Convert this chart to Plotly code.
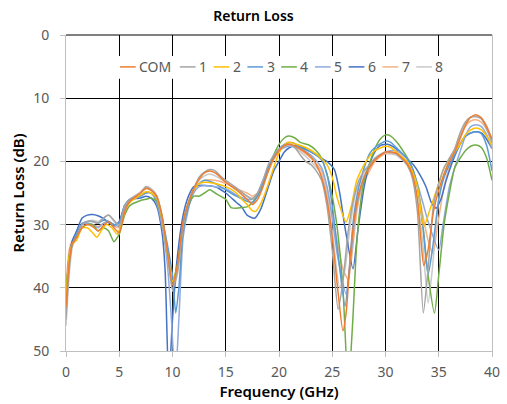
import plotly.graph_objects as go

# ---------------- data ----------------
SERIES_NAMES = ["COM", "1", "2", "3", "4", "5", "6", "7", "8"]
SERIES_COLORS = ["#ED7D31", "#A5A5A5", "#FFC000", "#5B9BD5", "#70AD47",
                 "#8FAADC", "#4472C4", "#F4B183", "#C9C9C9"]

F_COM = [0, 0.3, 0.6, 1, 1.5, 2, 2.5, 3, 3.5, 4, 4.5, 5, 5.5, 6, 7, 7.5, 8, 8.5, 9, 9.5, 10, 10.5, 11, 11.5, 12, 12.5, 13, 13.5, 14, 14.5, 15, 16, 17, 17.5, 18, 18.5, 19, 19.5, 20, 20.5, 21, 22, 23, 23.5, 24, 24.5, 25, 25.5, 26, 26.3, 26.7, 27, 27.5, 28, 28.5, 29, 30, 31, 32, 32.5, 33, 33.3, 33.6, 34, 34.5, 35, 35.5, 36, 36.5, 37, 37.5, 38, 38.5, 39, 39.5, 40]
RL_COM = [43, 36, 33, 32, 30.5, 30, 30.3, 31, 30.2, 29.5, 30.5, 31.3, 28, 26.3, 25, 24.3, 24.6, 25.5, 28.5, 34, 39.5, 36, 29.5, 26.5, 24.3, 22.8, 21.8, 21.5, 21.8, 22.5, 23.3, 24.5, 26, 26.8, 26, 24, 21.5, 19.5, 18.3, 17.5, 17.3, 18, 19.3, 20.5, 22.5, 26, 32, 40, 46.8, 44, 35, 30, 25, 22.5, 21, 19.8, 18.5, 18.7, 20.3, 22, 26, 32, 36.5, 34, 28, 24.5, 22, 20, 18.5, 16.3, 14.3, 13, 12.6, 13.1, 14.5, 16.5]

F_1 = [0, 0.3, 0.6, 1, 1.5, 2, 2.5, 3, 3.5, 4, 4.5, 5, 5.5, 6, 7, 7.5, 8, 8.5, 9, 9.5, 10, 10.5, 11, 11.5, 12, 12.5, 13, 13.5, 14, 14.5, 15, 16, 17, 17.5, 18, 18.5, 19, 19.5, 20, 20.5, 21, 21.5, 22, 22.5, 23, 23.5, 24, 24.5, 25, 25.55, 26, 26.5, 27, 27.5, 28, 28.5, 29, 30, 31, 32, 32.5, 33, 33.55, 34, 34.5, 35, 35.5, 36, 36.5, 37, 37.5, 38, 38.5, 39, 39.5, 40]
RL_1 = [45, 37, 33, 32, 30, 29.5, 29.5, 29.8, 29, 28.5, 29.3, 30.2, 27, 26, 25, 24, 24.5, 25.5, 28.5, 34, 40.2, 37, 30, 26.5, 24.3, 22.5, 21.7, 21.3, 21.5, 22.3, 23, 24.2, 25.5, 26, 25, 23, 20.5, 19, 18, 17.5, 17.3, 17.8, 19, 20, 20.5, 21.5, 23, 27, 34, 43.4, 39, 31, 26, 23, 21.5, 20.5, 19.5, 18.5, 18.8, 20.5, 22.5, 28, 44, 37, 27, 23.5, 21, 19.5, 18, 15.5, 13.8, 13, 12.9, 13.3, 14.8, 17]

F_2 = [0, 0.3, 0.6, 1, 1.5, 2, 2.5, 2.9, 3.3, 3.8, 4.3, 4.8, 5.2, 5.5, 6, 7, 7.5, 8, 8.5, 9, 9.5, 10, 10.5, 11, 11.5, 12, 12.5, 13, 14, 15, 16, 16.5, 17, 17.5, 17.8, 18.2, 18.7, 19.2, 19.7, 20.2, 20.8, 21.5, 22.5, 23.5, 24.5, 25, 25.5, 26.3, 26.8, 27.3, 28, 28.5, 29, 30, 30.5, 31, 32, 32.5, 33, 33.6, 34.2, 35, 35.5, 36, 36.5, 37, 37.5, 38, 38.5, 39, 39.5, 40]
RL_2 = [42, 35, 33, 32.5, 30.5, 30.5, 31.3, 32, 31, 30, 30.5, 31.5, 30, 28, 26.5, 25.3, 24.8, 25, 25.8, 29, 34.5, 39, 36.5, 30, 26.5, 24.5, 23.5, 23.3, 23.5, 24, 25, 26, 26.8, 27.8, 27.9, 27, 25, 22.5, 20, 18, 17, 17.2, 17.8, 18.8, 20.5, 22.5, 26, 29.6, 27, 23, 20.5, 19.2, 18.3, 17.6, 17.8, 18.5, 20, 21.5, 24, 30.3, 27.5, 23.5, 21, 19.7, 18.5, 17.3, 15.8, 15, 14.7, 15, 16, 17.5]

F_3 = [0, 0.3, 0.6, 1, 1.5, 2, 2.5, 3, 3.5, 4, 4.5, 5, 5.5, 6, 7, 7.5, 8, 8.5, 9, 9.5, 10, 10.3, 10.6, 11, 11.5, 12, 12.5, 13, 14, 14.5, 15, 16, 17, 17.5, 18, 18.5, 19, 19.5, 20, 20.5, 21, 21.5, 22, 23, 24, 24.5, 25, 25.5, 26.2, 26.6, 27, 27.5, 28, 28.5, 29, 30, 30.5, 31, 32, 32.5, 33, 33.5, 34, 34.4, 35, 35.5, 36, 36.5, 37, 37.5, 38, 38.5, 39, 39.5, 40]
RL_3 = [44, 36, 33, 31.5, 29.8, 29.5, 29.5, 29.8, 29.3, 29.5, 30, 29.7, 27, 26, 25.5, 25, 25, 26, 29, 33, 38, 44, 40, 31, 27, 24.5, 23.5, 23, 23.5, 24, 24.5, 25.5, 26.3, 26.5, 25.5, 23.5, 21, 19.2, 18, 17.3, 17, 17.2, 17.8, 18.5, 19.8, 22, 27, 34, 42.9, 37, 29, 24, 21, 18.8, 17.8, 16.8, 17, 17.8, 19.5, 21, 24, 30, 37.9, 34, 26, 22.5, 20.5, 19, 17.3, 16, 15.5, 15.3, 15.6, 17.5, 21.5]

F_4 = [0, 0.3, 0.6, 1, 1.5, 2, 2.5, 3, 3.5, 4, 4.5, 5, 5.5, 6, 7, 7.5, 8, 8.5, 9, 9.5, 10, 10.5, 11, 11.5, 12, 12.5, 13, 13.5, 14, 14.5, 15, 15.5, 16, 16.5, 17, 17.5, 18, 18.5, 19, 19.5, 20, 20.5, 20.9, 21.5, 22, 22.8, 23.5, 24, 24.5, 25, 25.5, 26, 26.5, 26.9, 27.3, 27.7, 28, 28.5, 29, 29.5, 30, 30.5, 31, 32, 32.5, 33, 33.5, 34, 34.6, 35, 35.5, 36, 36.5, 37, 37.5, 38, 38.5, 39, 39.5, 40]
RL_4 = [41, 35, 33, 32, 30.5, 30, 30, 31, 30.5, 31, 32.7, 31.5, 28.5, 27, 26.2, 26, 25.8, 26.3, 29, 34, 39, 36, 30, 27, 25.5, 25.5, 25, 24.5, 25, 25.5, 26, 27.3, 27.4, 27.3, 27.2, 26.5, 25.3, 23.5, 21.3, 19, 17.3, 16.3, 16, 16.3, 17, 17.4, 18.3, 19.5, 22, 25.5, 31, 40, 56, 46, 33, 26, 23, 20.3, 18, 16.5, 15.8, 16, 16.8, 19.3, 21, 24, 30, 38, 44, 38, 30, 25, 21, 19.5, 18.3, 17.6, 17.4, 17.8, 19.5, 23]

F_5 = [0, 0.3, 0.6, 1, 1.5, 2, 2.5, 3, 3.5, 4, 4.5, 5, 5.5, 6, 7, 7.5, 8, 8.5, 9, 9.5, 9.9, 10.25, 10.6, 11, 11.5, 12, 12.5, 13, 14, 15, 16, 17, 17.5, 18, 18.5, 19, 19.5, 20, 20.5, 21, 22, 23, 24, 24.5, 25, 25.5, 26.3, 26.7, 27.2, 27.7, 28, 28.5, 29, 30, 31, 32, 32.5, 33, 33.5, 34, 35, 35.4, 36, 36.5, 37, 37.5, 38, 38.5, 39, 39.5, 40]
RL_5 = [43, 36, 33, 32, 30, 29.8, 30, 30.5, 29.8, 29.5, 30, 30.3, 27.5, 26.3, 25.5, 25, 25, 26.5, 30, 36, 45, 55, 45, 32, 27.5, 25, 24, 23.8, 24, 24.3, 25.3, 26, 26, 25, 23, 21, 19.5, 18.3, 17.8, 17.6, 18, 19, 21, 24, 29, 35, 41, 36, 28, 24, 22.5, 20.8, 19.5, 18.5, 18.3, 19.5, 21, 23.5, 26.5, 29.5, 34, 30, 24, 21, 18.5, 16, 14.5, 14.2, 14.5, 15.8, 18]

F_6 = [0, 0.3, 0.6, 1, 1.5, 2, 2.5, 3, 3.5, 4, 4.5, 5, 5.5, 6, 7, 7.5, 8, 8.5, 9, 9.3, 9.65, 10, 10.4, 11, 11.5, 12, 12.5, 13, 14, 15, 16, 16.5, 17, 17.7, 18.3, 19, 19.5, 20, 20.5, 21, 21.5, 22, 23, 24, 24.5, 25.2, 25.7, 26.2, 26.95, 27.4, 28, 28.5, 29, 29.5, 30.2, 31, 32, 32.6, 33.2, 33.8, 34.3, 34.75, 35.2, 35.7, 36.3, 37, 37.5, 38, 38.5, 39, 39.5, 40]
RL_6 = [42, 35, 32.5, 31, 29, 28.5, 28.4, 28.6, 29, 29.7, 30.2, 29.5, 27, 26, 25.8, 25.5, 25.8, 27, 31, 37, 55, 45, 36, 28.5, 25.5, 24, 23.8, 23.8, 24, 25, 26.5, 27.2, 28.5, 29, 27.5, 24, 21.5, 20, 18.5, 17.8, 17.5, 17.6, 18.5, 19.5, 20, 21.3, 25, 30.5, 37, 31, 24, 20.5, 18.5, 17.5, 17.3, 18, 19.5, 20.5, 22, 24, 26.5, 27.4, 26, 23, 20, 17.3, 16, 15.5, 15.3, 15.5, 16.5, 18]

F_7 = [0, 0.3, 0.6, 1, 1.5, 2, 2.5, 3, 3.5, 4, 4.5, 5, 5.5, 6, 7, 7.5, 8, 8.5, 9, 9.5, 10, 10.5, 11, 11.5, 12, 12.5, 13, 14, 15, 16, 17, 17.5, 18, 18.5, 19, 19.5, 20, 20.5, 21, 22, 23, 24, 24.5, 25, 25.5, 26, 26.5, 26.9, 27.3, 27.8, 28.5, 29, 30, 31, 32, 32.5, 33, 33.5, 34, 34.45, 34.9, 35.5, 36, 36.5, 37, 37.5, 38, 38.5, 39, 39.5, 40]
RL_7 = [40, 34, 32.5, 31.5, 30, 29.8, 30, 30.3, 29.8, 29.5, 30.2, 30.5, 27.5, 26, 25, 24.2, 24.5, 25.5, 28.5, 34, 39.5, 36, 29.5, 26.5, 24.5, 23.5, 23, 23, 23.5, 24.3, 25, 25.5, 25, 23.5, 21.5, 19.7, 18.5, 17.7, 17.5, 18.2, 19.5, 21.5, 24, 28.5, 33, 37, 38.7, 34, 28, 24, 21.5, 20, 18.7, 18.7, 20, 21.5, 24, 28.5, 32.5, 34.5, 30, 24, 21, 19, 16.5, 14.5, 13.6, 13.4, 13.8, 15, 17]

F_8 = [0, 0.3, 0.6, 1, 1.5, 2, 2.5, 3, 3.5, 4, 4.5, 5, 5.5, 6, 7, 7.5, 8, 8.5, 9, 9.5, 10, 10.5, 11, 11.5, 12, 12.5, 13, 13.5, 14, 15, 16, 17, 17.5, 18, 18.5, 19, 19.5, 20, 20.5, 21, 22, 23, 24, 24.5, 25, 25.7, 26.2, 26.7, 27.2, 28, 28.5, 29, 30, 31, 32, 32.5, 33, 33.5, 34, 34.4, 35, 35.5, 36, 36.5, 37, 37.5, 38, 38.4, 39, 39.5, 40]
RL_8 = [46, 38, 33.5, 32, 30, 29.5, 29.3, 29.5, 29, 28.5, 29.5, 30, 27, 26, 24.8, 24, 24.3, 25.3, 28.5, 34, 40.5, 37.5, 30.5, 26.8, 24.5, 23, 22.3, 22, 22.3, 23.3, 24.5, 25.5, 25.8, 25, 23, 20.8, 19.2, 18.2, 17.6, 17.5, 18.5, 20, 22, 25, 31, 40, 37, 30, 25, 22, 20.8, 19.8, 18.8, 19, 20.5, 22, 26, 33, 42.4, 37, 26, 22, 20, 18.5, 15.8, 13.8, 13, 12.9, 13.2, 14.5, 16.5]

FREQS = [F_COM, F_1, F_2, F_3, F_4, F_5, F_6, F_7, F_8]
VALUES = [RL_COM, RL_1, RL_2, RL_3, RL_4, RL_5, RL_6, RL_7, RL_8]

X_TICKS = [0, 5, 10, 15, 20, 25, 30, 35, 40]
Y_TICKS = [0, 10, 20, 30, 40, 50]

# ---------------- layout constants ----------------
W, H = 507, 404
ML, MR, MT, MB = 66, 7, 35, 52
PW, PH = W - ML - MR, H - MT - MB
FONT = "Noto Sans"
TICK_COLOR = "#595959"
AXIS_GRAY = "#BFBFBF"


def px_x(p):
    return (p - ML) / PW


def px_y(p):
    return 1 - (p - MT) / PH


fig = go.Figure()
order = [8, 7, 6, 5, 4, 3, 2, 1, 0]
for i in order:
    fig.add_trace(go.Scatter(
        x=FREQS[i], y=VALUES[i], mode="lines", name=SERIES_NAMES[i],
        line=dict(color=SERIES_COLORS[i], width=1.5, shape="spline", smoothing=0.6),
        showlegend=False, hoverinfo="x+y+name"))

shapes = []
annotations = []
# top border line (gridline at 0 dB)
shapes.append(dict(type="line", xref="paper", yref="paper", x0=0, x1=1, y0=1, y1=1,
                   line=dict(color="black", width=1), layer="above"))

# custom legend inside the plot
leg_left, leg_right, leg_top, leg_bot = 113, 457, 56, 79
shapes.append(dict(type="rect", xref="paper", yref="paper",
                   x0=px_x(leg_left), x1=px_x(leg_right), y0=px_y(leg_bot), y1=px_y(leg_top),
                   fillcolor="white", line=dict(width=0), layer="above"))
row_y = 67
start = 121.0
for i, name in enumerate(SERIES_NAMES):
    shapes.append(dict(type="line", xref="paper", yref="paper",
                       x0=px_x(start), x1=px_x(start + 16), y0=px_y(row_y), y1=px_y(row_y),
                       line=dict(color=SERIES_COLORS[i], width=1.5), layer="above"))
    annotations.append(dict(text=name, xref="paper", yref="paper", x=px_x(start + 17.5),
                            y=px_y(row_y), xanchor="left", yanchor="middle", showarrow=False,
                            font=dict(family=FONT, size=14, color=TICK_COLOR)))
    start += 61 if i == 0 else 34.4

fig.update_layout(
    width=W, height=H,
    margin=dict(l=ML, r=MR, t=MT, b=MB, pad=0),
    paper_bgcolor="white", plot_bgcolor="white",
    font=dict(family=FONT, color=TICK_COLOR),
    title=dict(text="Return Loss", x=0.5, xanchor="center", y=1 - 16 / H, yanchor="middle",
               font=dict(family=FONT, size=14, color="black", weight=600)),
    shapes=shapes, annotations=annotations,
    showlegend=False,
)
fig.update_xaxes(
    range=[0, 40], tickvals=X_TICKS, showgrid=True, gridcolor="black", gridwidth=1,
    zeroline=False, showline=True, linecolor=AXIS_GRAY, linewidth=1,
    ticks="outside", ticklen=5, tickcolor=AXIS_GRAY, ticklabelstandoff=3,
    ticklabeloverflow="allow",
    tickfont=dict(family=FONT, size=14, color=TICK_COLOR),
    title=dict(text="Frequency (GHz)", standoff=6,
               font=dict(family=FONT, size=15, color="black", weight=600)),
)
fig.update_yaxes(
    range=[50, 0], tickvals=Y_TICKS, showgrid=True, gridcolor="black", gridwidth=1,
    zeroline=False, showline=True, linecolor=AXIS_GRAY, linewidth=1, mirror=True,
    ticks="outside", ticklen=5, tickcolor=AXIS_GRAY, ticklabelstandoff=8,
    tickfont=dict(family=FONT, size=14, color=TICK_COLOR),
    title=dict(text="Return Loss (dB)", standoff=4,
               font=dict(family=FONT, size=15, color="black", weight=600)),
)

fig.write_html(
    "out.html",
    config={"displayModeBar": False},
    post_script="document.body.style.margin='0';document.body.style.padding='0';"
                "document.body.style.overflow='hidden';"
                "document.documentElement.style.overflow='hidden';",
)
